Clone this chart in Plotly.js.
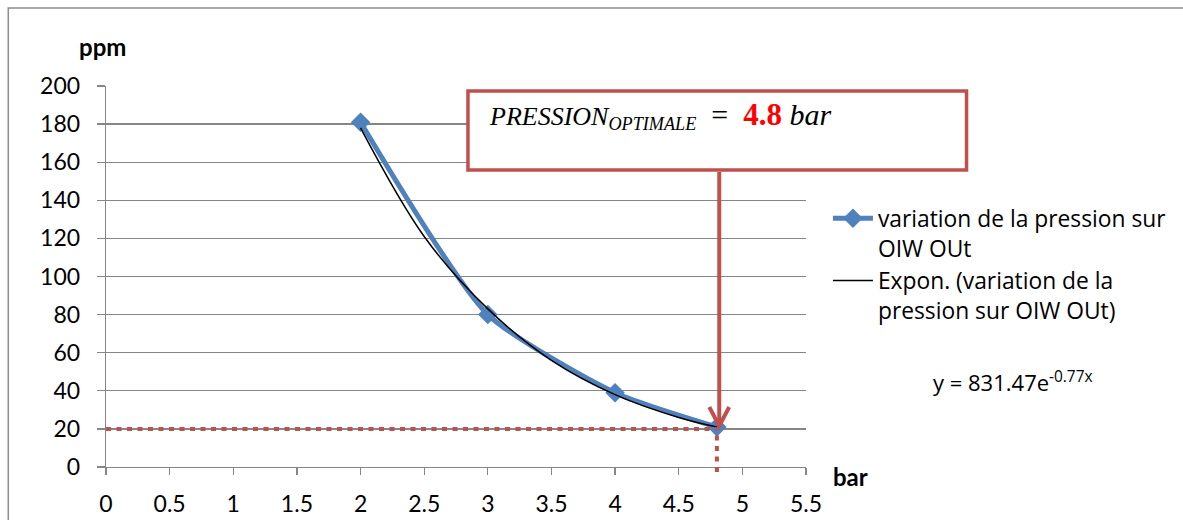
<!DOCTYPE html>
<html>
<head>
<meta charset="utf-8">
<script src="https://cdn.plot.ly/plotly-3.0.1.min.js"></script>
<style>html,body{margin:0;padding:0;background:#fff;}#chart{width:1183px;height:520px;}</style>
</head>
<body>
<div id="chart"></div>
<script>
// Measured series: pressure (bar) vs OIW out (ppm)
const pressure = [2, 3, 4, 4.8];
const ppm = [181, 80, 39, 21];
// Exponential trendline
const trendX = [2, 2.5, 3, 3.5, 4, 4.5, 4.8];
const trendY = [178, 121, 83, 56, 38, 26, 21];
// Optimum point
const optX = 4.8;
const optY = 20;
const xTicks = [0, 0.5, 1, 1.5, 2, 2.5, 3, 3.5, 4, 4.5, 5, 5.5];
const yTicks = [0, 20, 40, 60, 80, 100, 120, 140, 160, 180, 200];
const seriesName = 'variation de la pression sur<br>OIW OUt';
const trendName = 'Expon. (variation de la<br>pression sur OIW OUt)';
const equation = 'y = 831.47e<sup>-0.77x</sup>';

const blue = '#4F81BD';
const red = '#C0504D';
const grid = '#868686';
const font = 'Lato, "Open Sans", sans-serif';
const font2 = '"Open Sans", Lato, sans-serif';

const traces = [
  {x: pressure, y: ppm, type: 'scatter', mode: 'lines+markers', name: seriesName,
   line: {color: blue, width: 5, shape: 'spline', smoothing: 0.6},
   marker: {symbol: 'diamond', size: 15, color: blue}},
  {x: trendX, y: trendY, type: 'scatter', mode: 'lines', name: trendName,
   line: {color: '#000', width: 1.5, shape: 'spline'}}
];

// pixel-to-paper helpers for the plot box (l=106, r=808, t=86, b=467)
const px = v => (v - 106) / 702;
const py = v => (467 - v) / 381;

const layout = {
  width: 1183, height: 520,
  margin: {l: 106, r: 375, t: 86, b: 53},
  paper_bgcolor: '#fff', plot_bgcolor: '#fff',
  font: {family: font, color: '#000', size: 20},
  showlegend: true,
  legend: {x: px(830), y: py(197), xanchor: 'left', yanchor: 'top',
    font: {family: font2, size: 22.8, color: '#000'}, valign: 'top',
    bgcolor: 'rgba(0,0,0,0)', tracegroupgap: 0, itemwidth: 40},
  xaxis: {range: [0, 5.5], tickvals: xTicks, ticktext: xTicks.map(String),
    showgrid: false, zeroline: false, showline: true, linecolor: grid, linewidth: 1.3,
    ticks: 'outside', ticklen: 7, tickcolor: grid, tickwidth: 1.3, ticklabelstandoff: 9,
    tickfont: {family: font, size: 23, color: '#000'}, fixedrange: true},
  yaxis: {range: [0, 200], tickvals: yTicks, ticktext: yTicks.map(String),
    showgrid: true, gridcolor: grid, gridwidth: 1.3, zeroline: false,
    showline: true, linecolor: grid, linewidth: 1.3,
    ticks: 'outside', ticklen: 8, tickcolor: grid, tickwidth: 1.3, ticklabelstandoff: 12,
    tickfont: {family: font, size: 23, color: '#000'}, fixedrange: true},
  shapes: [
    // outer chart border
    {type: 'rect', xref: 'paper', yref: 'paper', x0: px(8), x1: px(1200), y0: py(540), y1: py(8),
     line: {color: '#8c8c8c', width: 1.5}, fillcolor: 'rgba(0,0,0,0)', layer: 'below'},
    // dotted guide lines
    {type: 'line', xref: 'x', yref: 'y', x0: 0, x1: optX, y0: optY, y1: optY,
     line: {color: red, width: 4, dash: '5px,5.5px'}},
    {type: 'line', xref: 'x', yref: 'paper', x0: optX, x1: optX, y0: py(472), y1: py(429),
     line: {color: red, width: 4, dash: '5px,5.5px'}},
    // annotation box
    {type: 'rect', xref: 'paper', yref: 'paper', x0: px(469), x1: px(969), y0: py(170), y1: py(91),
     line: {color: red, width: 3.5}, fillcolor: '#fff', layer: 'above'},
    // arrow shaft
    {type: 'line', xref: 'paper', yref: 'paper', x0: px(721), x1: px(721), y0: py(172), y1: py(425),
     line: {color: red, width: 4}},
    // arrow head
    {type: 'path', xref: 'paper', yref: 'paper',
     path: 'M' + px(711) + ',' + py(407) + ' L' + px(721) + ',' + py(426) + ' L' + px(731) + ',' + py(407),
     line: {color: red, width: 4}}
  ],
  annotations: [
    {xref: 'paper', yref: 'paper', x: px(102), y: py(47), xanchor: 'center', yanchor: 'middle',
     text: '<b>ppm</b>', showarrow: false, font: {family: font, size: 24, color: '#000'}},
    {xref: 'paper', yref: 'paper', x: px(853), y: py(476), xanchor: 'center', yanchor: 'middle',
     text: '<b>bar</b>', showarrow: false, font: {family: font, size: 24, color: '#000'}},
    {xref: 'paper', yref: 'paper', x: px(1016), y: py(381), xanchor: 'center', yanchor: 'middle',
     text: equation, showarrow: false, font: {family: font2, size: 22, color: '#000'}},
    {xref: 'paper', yref: 'paper', x: px(488), y: py(115), xanchor: 'left', yanchor: 'middle',
     text: '<i>PRESSION</i><sub><i>OPTIMALE</i></sub><span style="font-size:30px">  =  </span><b><span style="color:#FF0000;font-size:31px">4.8</span></b><span style="font-size:30px"> <i>bar</i></span>',
     showarrow: false, font: {family: '"Liberation Serif", serif', size: 26, color: '#000'}}
  ]
};

Plotly.newPlot('chart', traces, layout, {displayModeBar: false, staticPlot: true});
</script>
</body>
</html>
